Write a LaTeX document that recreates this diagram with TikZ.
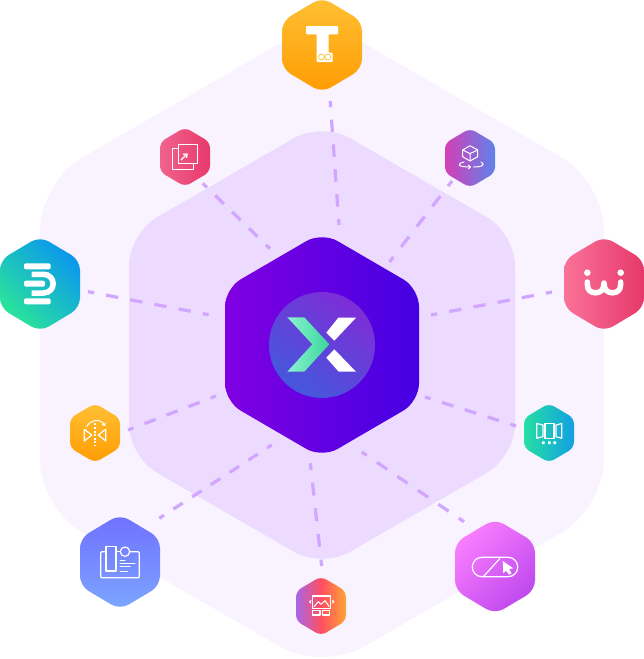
\documentclass[tikz,border=0pt]{standalone}
\usetikzlibrary{arrows.meta}
\definecolor{outerhex}{HTML}{F8F3FF}
\definecolor{innerhex}{HTML}{EDDAFF}
\definecolor{dashc}{HTML}{D0A6FF}
\definecolor{Ggold1}{HTML}{FFC034}
\definecolor{Ggold2}{HTML}{FF9C02}
\definecolor{HubL}{HTML}{8000E2}
\definecolor{HubR}{HTML}{4400E2}
\definecolor{DiscA}{HTML}{4458DC}
\definecolor{DiscB}{HTML}{7E2DD6}
\definecolor{ChevL}{HTML}{8CF2D2}
\definecolor{ChevR}{HTML}{3AD69A}
\definecolor{PinkL}{HTML}{F1628C}
\definecolor{PinkR}{HTML}{E83A6C}
\definecolor{CubeL}{HTML}{D43FB6}
\definecolor{CubeR}{HTML}{5F82EA}
\definecolor{DGreen}{HTML}{2BE59A}
\definecolor{DBlue}{HTML}{0A96EE}
\definecolor{WL}{HTML}{FA7299}
\definecolor{WR}{HTML}{E6386A}
\definecolor{TealL}{HTML}{25DFA3}
\definecolor{TealR}{HTML}{12A0E2}
\definecolor{BlueT}{HTML}{7070FF}
\definecolor{BlueB}{HTML}{7CA6FF}
\definecolor{OrA}{HTML}{A866E8}
\definecolor{OrB}{HTML}{FF4E60}
\definecolor{OrC}{HTML}{FFA436}
\definecolor{MagA}{HTML}{FB7EFF}
\definecolor{MagB}{HTML}{BE48EE}
\tikzset{
  x=1pt,y=-1pt,
  link/.style={draw=dashc,line width=3.2pt},
  iconline/.style={draw=white,line width=1pt,line cap=round,line join=round},
  thinline/.style={draw=white,line width=1.2pt,line join=round},
  anchorpt/.style={circle,inner sep=0pt,minimum size=1pt},
}
% name, cx, cy, half width, half height, corner, shading options
\newcommand{\hexnode}[7]{%
  \path[#7,shift={(#2,#3)},rounded corners=#6pt]
    (0,{-#5}) -- (#4,{-#5/2}) -- (#4,{#5/2}) -- (0,#5) -- ({-#4},{#5/2}) -- ({-#4},{-#5/2}) -- cycle;
  \node[anchorpt] (#1) at (#2,#3) {};
}
\begin{document}
\begin{tikzpicture}
\useasboundingbox (0,0) rectangle (644,659);
% backing hexagons
\hexnode{outer}{322}{345}{282}{326}{48}{fill=outerhex}
\hexnode{inner}{322}{345}{193}{223}{32}{fill=innerhex}
% connector ends
\coordinate (tA) at (330.2,101);  \coordinate (tB) at (339,225);
\coordinate (pA) at (202.7,183.3);\coordinate (pB) at (270,248.7);
\coordinate (cA) at (452,181);    \coordinate (cB) at (389.5,262);
\coordinate (dA) at (88,291.7);   \coordinate (dB) at (208.7,314.7);
\coordinate (wA) at (552,292);    \coordinate (wB) at (431,315);
\coordinate (bA) at (128,430);    \coordinate (bB) at (216,396);
\coordinate (eA) at (516,426);    \coordinate (eB) at (425,397);
\coordinate (lA) at (159.3,518.3);\coordinate (lB) at (271.7,445);
\coordinate (gA) at (321.7,566);  \coordinate (gB) at (310.3,463.3);
\coordinate (mA) at (464,521.7);  \coordinate (mB) at (361.7,452);
\foreach \a/\b/\p in {tA/tB/24.9,pA/pB/23.5,cA/cB/25.6,dA/dB/24.6,wA/wB/24.6,bA/bB/23.6,eA/eB/23.9,lA/lB/22.4,gA/gB/25.8,mA/mB/24.8}{
  \pgfmathsetmacro\hp{\p/2}
  \pgfmathsetmacro\qp{\p/4}
  \draw[link,dash pattern=on \hp pt off \hp pt,dash phase=\qp pt] (\a) -- (\b);
}
% hub
\hexnode{hub}{322}{345}{97}{113}{18}{left color=HubL,right color=HubR}
\shade[bottom color=DiscA,top color=DiscB,shading angle=-35] (322,345) circle[radius=53];
\shade[left color=ChevL,right color=ChevR]
  (287.3,317.3) -- (304.3,317.3) -- (329.3,344.3) -- (304.3,371.7) -- (287.3,371.7) -- (312.3,344.3) -- cycle;
\fill[white] (338.3,317.7) -- (356,317.7) -- (334.3,340.7) -- (326.3,332.7) -- cycle;
\fill[white] (334.3,349.3) -- (356,371.7) -- (338.7,371.7) -- (326.3,357.7) -- cycle;
% T
\hexnode{tnode}{322}{45}{40}{47.7}{10}{top color=Ggold1,bottom color=Ggold2}
\fill[white,rounded corners=0.8pt] (306,26) -- (338,26) -- (338,34.3) -- (328.5,34.3) -- (328.5,52.7) -- (332.7,52.7) -- (332.7,62) -- (316.7,62) -- (316.7,34.3) -- (306,34.3) -- cycle;
\draw[Ggold1,line width=0.7pt] (321.5,57) circle[radius=2.9] (327.8,57) circle[radius=2.9];
% pink
\hexnode{pnode}{185}{157}{25}{29.6}{6}{left color=PinkL,right color=PinkR}
\draw[thinline] (178.3,148.3) -- (172.3,148.3) -- (172.3,169.3) -- (193.3,169.3) -- (193.3,163.3);
\draw[thinline] (178.3,144.3) rectangle (197.7,163.3);
\draw[thinline,-{Straight Barb[length=3pt,width=5pt]}] (181,160) -- (187.7,153.3);
% cube
\hexnode{cnode}{470}{158}{25}{29.6}{6}{left color=CubeL,right color=CubeR}
\draw[iconline] (470,145.7) -- (477.7,150) -- (477.7,156.7) -- (470,161) -- (462.7,156.7) -- (462.7,150) -- cycle;
\draw[iconline] (462.7,150) -- (470,153.6) -- (477.7,150) (470,153.6) -- (470,161);
\draw[iconline,-{Straight Barb[length=2pt,width=4pt]}] (464,162) .. controls (456,164) and (458,167) .. (471,167);
\draw[iconline] (481,162) .. controls (486,165) and (482,167) .. (473.5,167);
% D
\hexnode{dnode}{40}{284}{40}{47.7}{10}{bottom color=DGreen,top color=DBlue,shading angle=-45}
\fill[white,rounded corners=2pt] (24,263.3) rectangle (50.7,269.3);
\fill[white,rounded corners=2pt] (24,298.3) rectangle (50.7,304.3);
\fill[white,rounded corners=2pt] (24,280.7) rectangle (45,286.7);
\draw[white,line width=5.5pt] (31.7,274.3) -- (43.5,274.3) .. controls (49.5,274.3) and (53.2,279) .. (53.2,283.7) .. controls (53.2,288.4) and (49.5,293) .. (43.5,293) -- (31.7,293);
% W
\hexnode{wnode}{604}{284}{40}{47.7}{10}{left color=WL,right color=WR}
\fill[white] (587.3,272.7) circle[radius=3.3] (620.7,272.7) circle[radius=3.3];
\draw[white,line width=5.5pt,line cap=round,line join=round] (587.3,282) -- (587.3,284) .. controls (587.3,290) and (590.5,292.8) .. (595.5,292.8) .. controls (600.5,292.8) and (604,290) .. (604,283) .. controls (604,290) and (607.5,292.8) .. (612.5,292.8) .. controls (617.5,292.8) and (620.7,290) .. (620.7,284) -- (620.7,282);
% butterfly
\hexnode{bnode}{95}{433}{25}{29.6}{6}{top color=Ggold1,bottom color=Ggold2}
\draw[white,line width=1.1pt,dash pattern=on 2pt off 1.6pt] (95,423.3) -- (95,445.5);
\draw[thinline] (84.3,429.3) -- (84.3,441) -- (91.7,435) -- cycle;
\draw[thinline] (105.7,429.3) -- (105.7,441) -- (98.3,435) -- cycle;
\draw[iconline,-{Straight Barb[length=2pt,width=4pt]}] (86.7,426.7) .. controls (89,421) and (100,417) .. (105,426);
% teal
\hexnode{enode}{549}{433}{25}{29.6}{6}{left color=TealL,right color=TealR}
\draw[thinline] (545,423.3) rectangle (554,438.3);
\draw[thinline] (536.7,423.5) -- (543,425) -- (543,436.7) -- (536.7,438.2) -- cycle;
\draw[thinline] (561.7,423.5) -- (556,425) -- (556,436.7) -- (561.7,438.2) -- cycle;
\fill[white] (542,441.4) rectangle (544.6,444) (548,441.4) rectangle (550.6,444) (553.4,441.4) rectangle (556,444);
% blue
\hexnode{lnode}{120}{562}{40}{47.7}{10}{top color=BlueT,bottom color=BlueB}
\draw[thinline,rounded corners=1pt] (106,551.7) -- (100.7,551.7) -- (100.7,577.7) -- (139.3,577.7) -- (139.3,551.7) -- (129.7,551.7);
\draw[thinline] (116,551.7) -- (120.3,551.7);
\draw[thinline] (106,546.7) rectangle (116,571);
\draw[thinline] (125,551.7) circle[radius=4.7];
\draw[iconline] (120,560) -- (125,560) (120,563.3) -- (135,563.3) (120,566.7) -- (130,566.7) (120,571) -- (127.3,571);
% bottom
\hexnode{gnode}{321}{606}{25}{29.6}{6}{left color=OrA,right color=OrC,middle color=OrB}
\draw[thinline] (312.3,596) rectangle (330.7,608.3);
\draw[iconline] (314,606.7) -- (318.3,601.7) -- (321,604.3) -- (325,600.7) -- (329.3,606.7);
\draw[thinline] (312.3,610.7) rectangle (320,615);
\draw[thinline] (322.3,610.7) rectangle (329.3,615);
\draw[iconline] (311,600.5) -- (309.5,601.7) -- (311,603);
\draw[iconline] (332.5,600.5) -- (334,601.7) -- (332.5,603);
% magenta
\hexnode{mnode}{495}{566.5}{40}{47.7}{10}{top color=MagA,bottom color=MagB,shading angle=45}
\draw[thinline] (482,557.3) -- (508,557.3) .. controls (514,557.3) and (517.7,562) .. (517.7,567) .. controls (517.7,572) and (514,576.7) .. (508,576.7) -- (482,576.7) .. controls (476,576.7) and (472.3,572) .. (472.3,567) .. controls (472.3,562) and (476,557.3) .. (482,557.3) -- cycle;
\draw[thinline] (500,558.3) -- (483.3,576.7);
\fill[white] (502.7,561) -- (513.3,568.3) -- (509,569.2) -- (511.7,573.3) -- (509,574.7) -- (506,570.7) -- (503.3,573.3) -- cycle;
\end{tikzpicture}
\end{document}
